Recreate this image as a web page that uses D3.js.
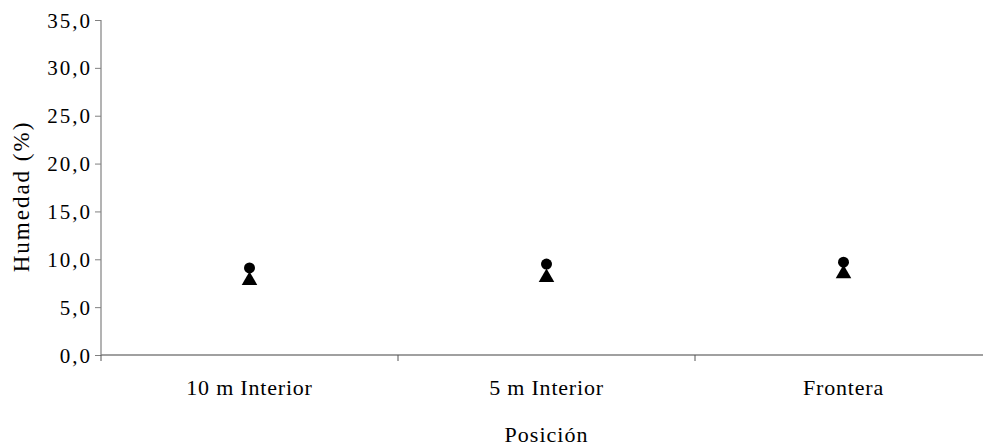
<!DOCTYPE html>
<html><head><meta charset="utf-8">
<script src="https://cdn.jsdelivr.net/npm/d3@7"></script>
<style>body{margin:0;background:#fff}svg{display:block}</style>
</head><body>
<svg id="c" width="983" height="447"></svg>
<script>
const categories = ["10 m Interior", "5 m Interior", "Frontera"];
const circleValues = [9.1, 9.5, 9.7];
const triangleValues = [7.9, 8.2, 8.6];
const yTicks = [0, 5, 10, 15, 20, 25, 30, 35];

// pick an installed serif family
function pickFont() {
  const ctx = document.createElement("canvas").getContext("2d");
  const s = "mmmmmmmmiiiiiilllWWW10,5";
  const w = f => { ctx.font = "40px " + f; return ctx.measureText(s).width; };
  const wm = w("monospace"), ws = w("sans-serif");
  const cands = ["Liberation Serif", "Times New Roman", "Tinos", "DejaVu Serif", "Noto Serif", "FreeSerif", "Nimbus Roman"];
  for (const c of cands) {
    const a = w(`'${c}', monospace`), b = w(`'${c}', sans-serif`);
    if (Math.abs(a - b) < 0.01 && Math.abs(a - wm) > 0.5) return `'${c}', serif`;
  }
  return "serif";
}
const FONT = pickFont();

const svg = d3.select("#c");
const mLeft = 101, mRight = 992, mTop = 20, mBottom = 355;
const x = d3.scaleBand().domain(categories).range([mLeft, mRight]).padding(0);
const y = d3.scaleLinear().domain([0, 35]).range([mBottom, mTop]);
const fmt = d => d.toFixed(1).replace(".", ",");

// y axis
const ya = svg.append("g").attr("transform", `translate(${mLeft},0)`)
  .call(d3.axisLeft(y).tickValues(yTicks).tickFormat(fmt).tickSize(6).tickPadding(3));
ya.attr("font-family", null).attr("font-size", null);
ya.select(".domain").attr("stroke", "#808080").attr("stroke-width", 1.2).attr("d", `M0,${mTop}V${mBottom}`);
ya.selectAll(".tick line").attr("stroke", "#808080");
ya.selectAll(".tick text").style("font-family", FONT).style("font-size", "21px")
  .style("letter-spacing", "2px").attr("fill", "#000").attr("dy", "0.34em");

// x axis
const xa = svg.append("g").attr("transform", `translate(0,${mBottom})`);
xa.append("line").attr("x1", mLeft).attr("x2", mRight).attr("y1", 0).attr("y2", 0)
  .attr("stroke", "#808080").attr("stroke-width", 1.5);
const bounds = categories.map(c => x(c)).concat([x(categories[categories.length-1]) + x.bandwidth()]);
xa.selectAll("line.tk").data(bounds).join("line").attr("class", "tk")
  .attr("x1", d => d).attr("x2", d => d).attr("y1", 0).attr("y2", 6).attr("stroke", "#555");
xa.selectAll("text.cl").data(categories).join("text").attr("class", "cl")
  .attr("x", d => x(d) + x.bandwidth() / 2).attr("y", 40)
  .attr("text-anchor", "middle").style("font-family", FONT).style("font-size", "22px")
  .style("letter-spacing", "0.8px").text(d => d);

// titles
svg.append("text").attr("transform", `translate(29,${(mTop + mBottom) / 2 + 9}) rotate(-90)`)
  .attr("text-anchor", "middle").style("font-family", FONT).style("font-size", "23px")
  .style("letter-spacing", "2px").text("Humedad (%)");
svg.append("text").attr("x", x(categories[1]) + x.bandwidth() / 2).attr("y", 442)
  .attr("text-anchor", "middle").style("font-family", FONT).style("font-size", "22px")
  .style("letter-spacing", "1px").text("Posición");

// markers
const cx = d => x(d) + x.bandwidth() / 2;
const tri = d3.symbol().type(d3.symbolTriangle).size(105);
svg.selectAll("path.tri").data(categories).join("path").attr("class", "tri")
  .attr("d", tri).attr("fill", "#000")
  .attr("transform", (d, i) => `translate(${cx(d)},${y(triangleValues[i]) + 1})`);
svg.selectAll("circle.pt").data(categories).join("circle").attr("class", "pt")
  .attr("cx", cx).attr("cy", (d, i) => y(circleValues[i])).attr("r", 5.5).attr("fill", "#000");
</script>
</body></html>
